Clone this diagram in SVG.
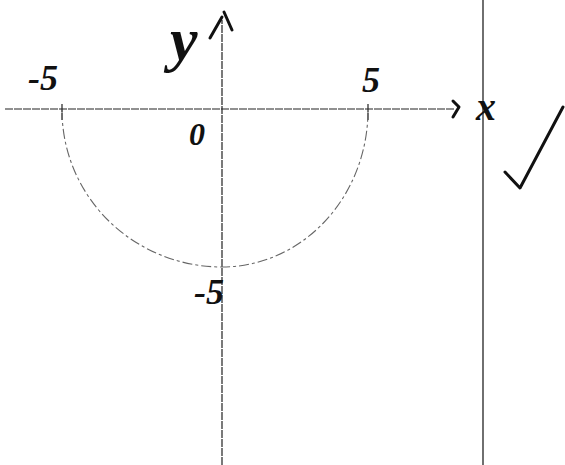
<svg xmlns="http://www.w3.org/2000/svg" width="565" height="465" viewBox="0 0 565 465">
<style>
.axis{stroke:#222;stroke-width:1.2;fill:none;stroke-dasharray:8 1}
.ink{stroke:#111;stroke-width:3;fill:none;stroke-linecap:round;stroke-linejoin:round}
.curve{stroke:#666;stroke-width:1.1;fill:none;stroke-dasharray:10 3 3 3}
.lbl{font-family:"Liberation Serif",serif;font-style:italic;font-weight:bold;fill:#111}
</style>
<rect width="565" height="465" fill="#fff"/>
<g id="axes">
<line class="axis" x1="5" y1="109" x2="455" y2="109"/>
<line class="axis" x1="222" y1="465" x2="222" y2="20"/>
<line x1="483" y1="0" x2="483" y2="465" stroke="#222" stroke-width="1.3"/>
<path class="ink" d="M453,101 L459,107 L453,117"/>
<path class="ink" d="M210,38 L222,17 M224,12 L232,30"/>
<line class="axis" x1="62" y1="104" x2="62" y2="120"/>
<line class="axis" x1="368" y1="104" x2="368" y2="120"/>
</g>
<g id="curve">
<path class="curve" d="M62,110 A160,157 0 0 0 222,267 A146,157 0 0 0 368,110"/>
</g>
<g id="labels">
<text class="lbl" x="170" y="60" font-size="62">y</text>
<text class="lbl" x="476" y="120" font-size="40">x</text>
<text class="lbl" x="28" y="90" font-size="36">-5</text>
<text class="lbl" x="362" y="92" font-size="36">5</text>
<text class="lbl" x="189" y="145" font-size="32">0</text>
<text class="lbl" x="194" y="304" font-size="36">-5</text>
</g>
<g id="check">
<path class="ink" d="M505,172 L520,188 L563,107" stroke-width="3.5"/>
</g>
</svg>
